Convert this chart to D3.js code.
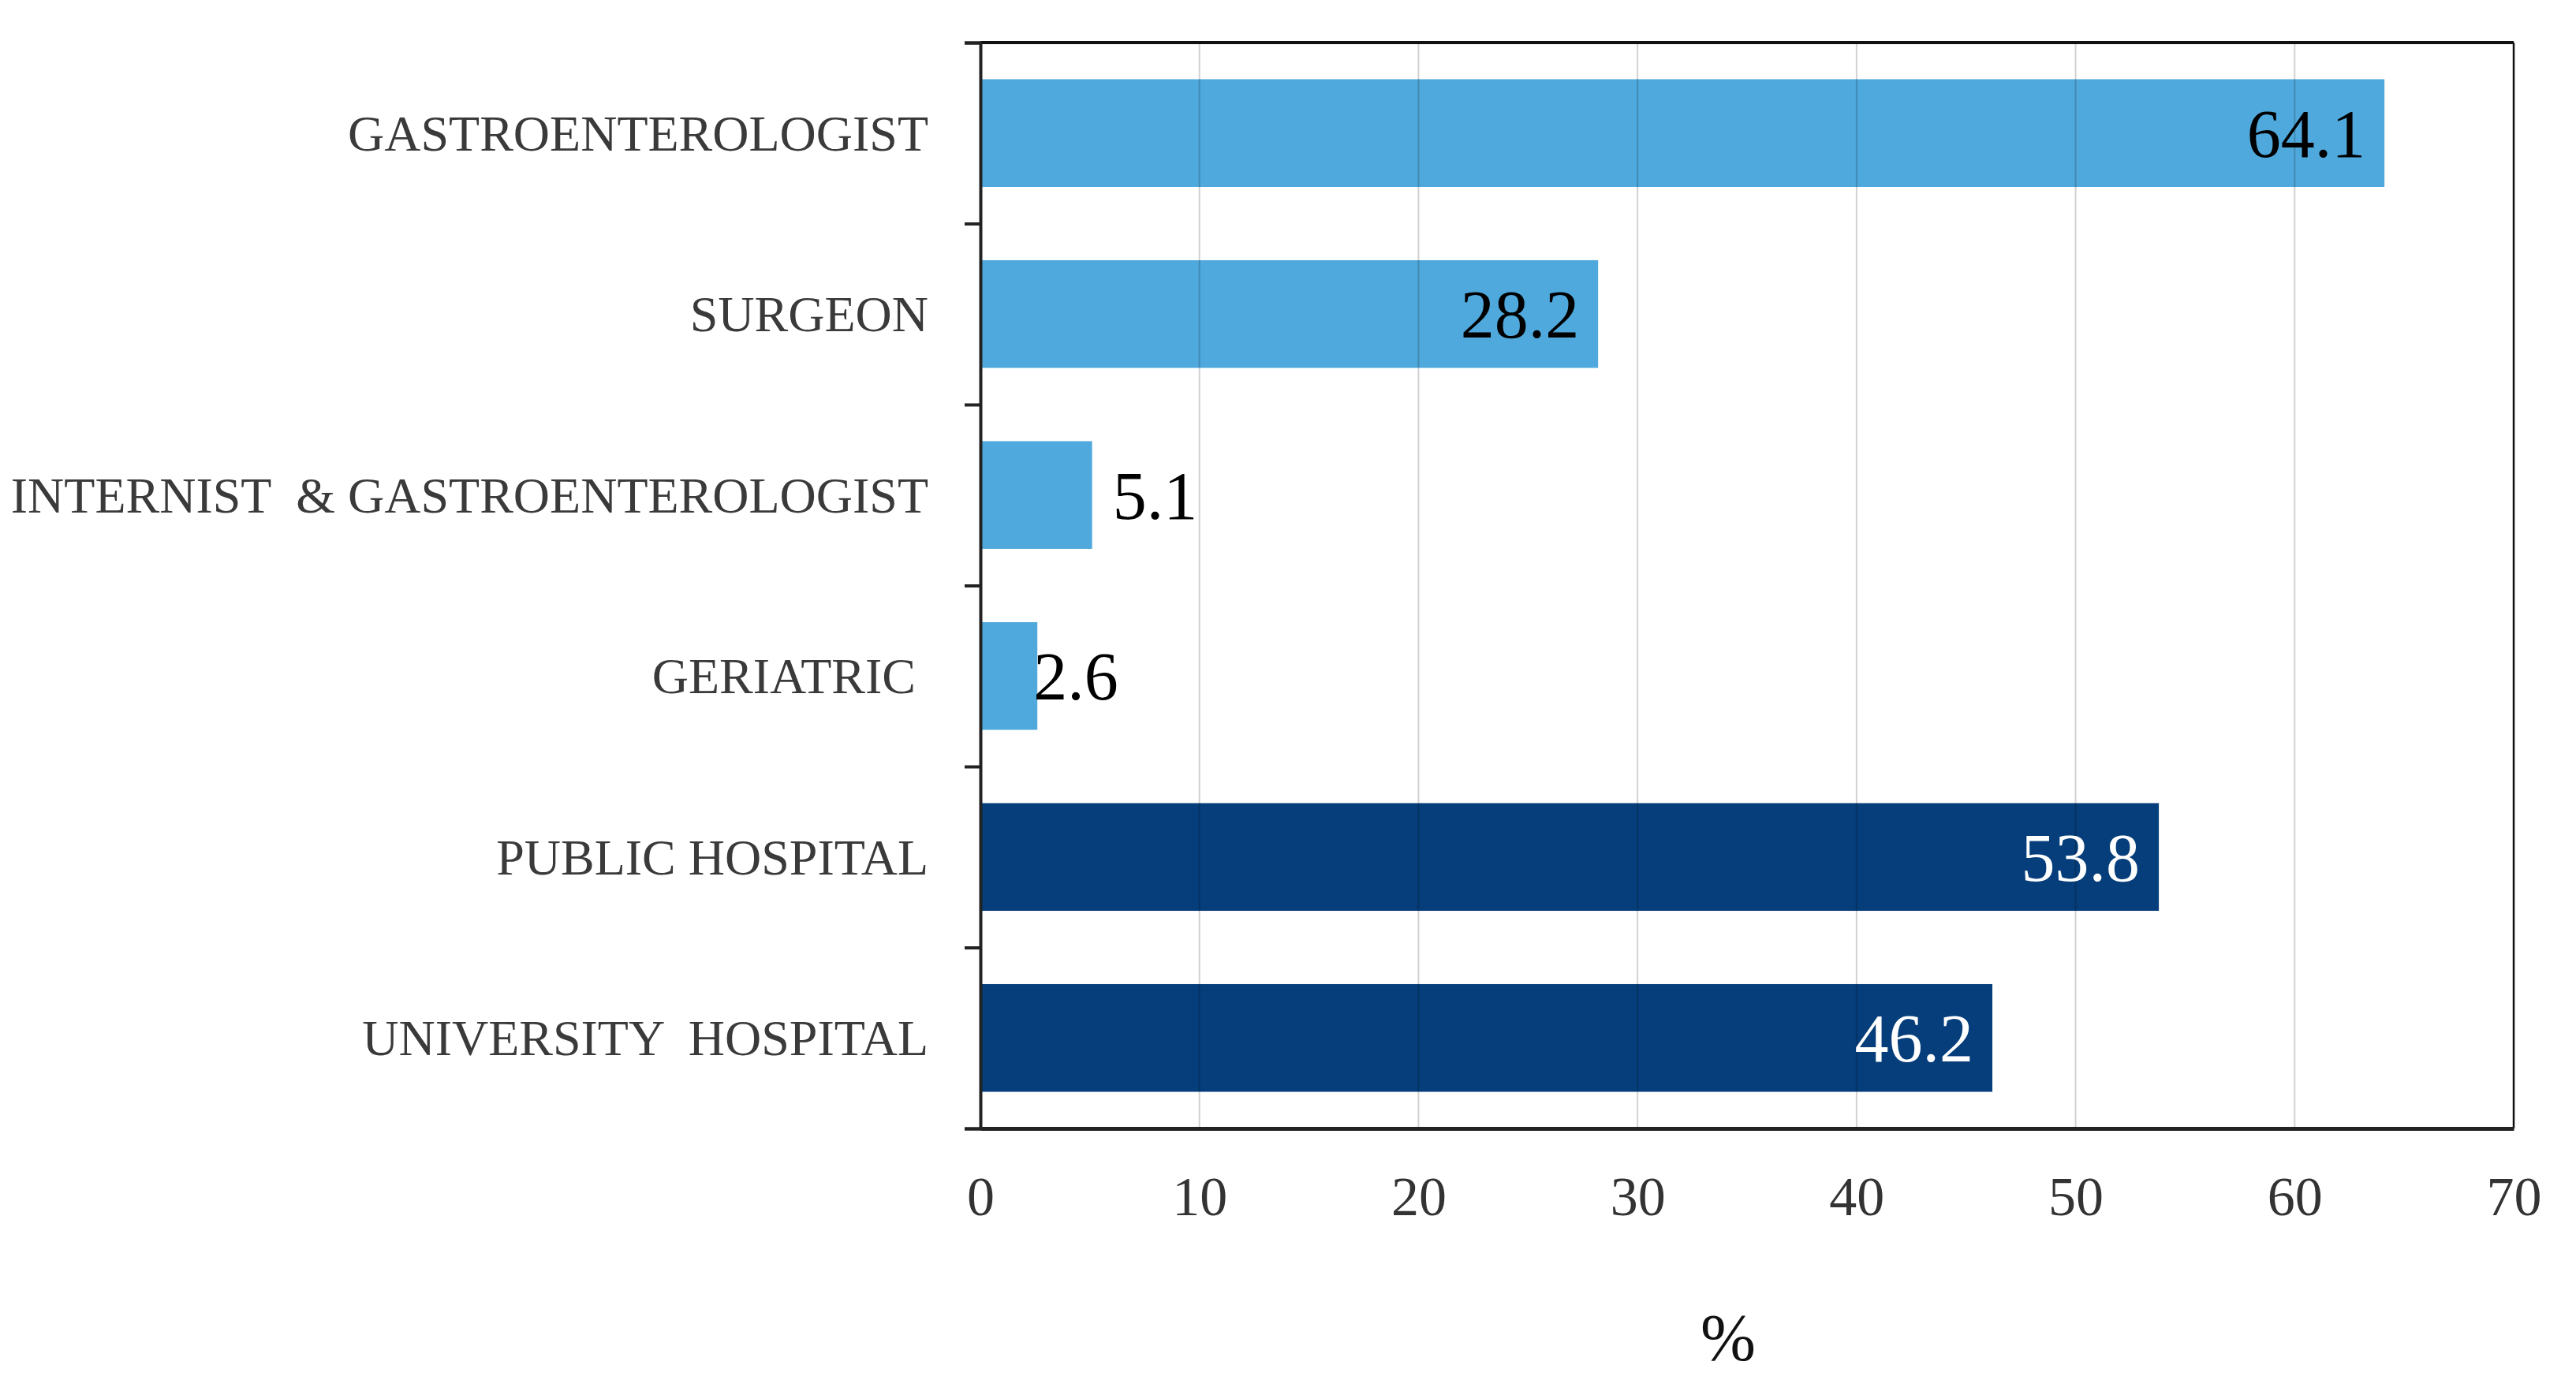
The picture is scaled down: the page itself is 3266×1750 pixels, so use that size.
<!DOCTYPE html>
<html>
<head>
<meta charset="utf-8">
<script src="https://cdn.jsdelivr.net/npm/d3@7"></script>
<style>
  html, body { margin: 0; padding: 0; background: #fff; }
  text { font-family: "Liberation Serif", "Times New Roman", serif; white-space: pre; }
</style>
</head>
<body>
<div id="chart"></div>
<script>
// categories top to bottom
const categories = [
  'GASTROENTEROLOGIST',
  'SURGEON',
  'INTERNIST  & GASTROENTEROLOGIST',
  'GERIATRIC ',
  'PUBLIC HOSPITAL',
  'UNIVERSITY  HOSPITAL'
];
const values = [64.1, 28.2, 5.1, 2.6, 53.8, 46.2];
const groups = ['specialist', 'specialist', 'specialist', 'specialist', 'hospital', 'hospital'];
const xTicks = [0, 10, 20, 30, 40, 50, 60, 70];
const xLabel = '%';

const W = 3266, H = 1750;
const margin = { top: 54, right: 79, bottom: 319, left: 1243 };
const width = W - margin.left - margin.right;
const height = H - margin.top - margin.bottom;

const fill = { specialist: '#4fa9dc', hospital: '#053e7a' };
const labelFill = { specialist: '#000', hospital: '#fff' };

const svg = d3.select('#chart').append('svg')
  .attr('width', W)
  .attr('height', H);

const g = svg.append('g')
  .attr('transform', `translate(${margin.left},${margin.top})`);

// Scales
const x = d3.scaleLinear().domain([0, 70]).range([0, width]);
const y = d3.scaleBand()
  .domain(categories)
  .range([0, height])
  .paddingInner(0.405)
  .paddingOuter(0.2025);
const yEdge = d3.scaleLinear().domain([0, categories.length]).range([0, height]);

// Bars
g.selectAll('.bar')
  .data(values)
  .enter()
  .append('rect')
  .attr('x', x(0))
  .attr('y', (d, i) => y(categories[i]))
  .attr('width', d => x(d) - x(0))
  .attr('height', y.bandwidth())
  .attr('fill', (d, i) => fill[groups[i]]);

// Grid (drawn over the bars, translucent)
g.append('g')
  .selectAll('line')
  .data(xTicks.slice(1, -1))
  .enter()
  .append('line')
  .attr('x1', d => x(d))
  .attr('x2', d => x(d))
  .attr('y1', 0)
  .attr('y2', height)
  .attr('stroke', '#000')
  .attr('stroke-opacity', 0.18)
  .attr('stroke-width', 2);

// Frame: top and right
g.append('line')
  .attr('x1', 0).attr('x2', width).attr('y1', 0).attr('y2', 0)
  .attr('stroke', '#111').attr('stroke-width', 4);
g.append('line')
  .attr('x1', width).attr('x2', width).attr('y1', 0).attr('y2', height)
  .attr('stroke', '#111').attr('stroke-width', 2.5);

// Y axis ticks at band edges
const yTickAxis = g.append('g')
  .call(d3.axisLeft(yEdge).tickValues(d3.range(categories.length + 1)).tickSize(20).tickFormat(''));
yTickAxis.select('.domain').attr('stroke', '#222').attr('stroke-width', 4);
yTickAxis.selectAll('line').attr('stroke', '#222').attr('stroke-width', 4);

// Y category labels
const yLabelAxis = g.append('g')
  .call(d3.axisLeft(y).tickSize(0).tickPadding(66));
yLabelAxis.select('.domain').remove();
yLabelAxis.selectAll('text')
  .attr('font-size', '64px')
  .attr('fill', '#3a3a3a')
  .attr('dy', '0.34em');

// X axis
const xAxis = g.append('g')
  .attr('transform', `translate(0,${height})`)
  .call(d3.axisBottom(x).tickValues(xTicks).tickSize(0).tickPadding(60));
xAxis.select('.domain').attr('stroke', '#222').attr('stroke-width', 5);
xAxis.selectAll('text')
  .attr('font-size', '70px')
  .attr('fill', '#333');

// X axis title
g.append('text')
  .attr('x', width / 2 - 24)
  .attr('y', height + 294)
  .attr('text-anchor', 'middle')
  .attr('font-size', '84px')
  .attr('fill', '#111')
  .text(xLabel);

// Value labels
g.selectAll('.value')
  .data(values)
  .enter()
  .append('text')
  .attr('x', d => {
    const end = x(d);
    if (end - x(0) > 250) return end - 24;
    if (end - x(0) > 100) return end + 26;
    return end - 5;
  })
  .attr('y', (d, i) => y(categories[i]) + y.bandwidth() / 2)
  .attr('dy', '0.35em')
  .attr('text-anchor', d => (x(d) - x(0) > 250 ? 'end' : 'start'))
  .attr('font-size', '86px')
  .attr('fill', (d, i) => (x(d) - x(0) > 250 ? labelFill[groups[i]] : '#000'))
  .text(d => d.toFixed(1));
</script>
</body>
</html>
